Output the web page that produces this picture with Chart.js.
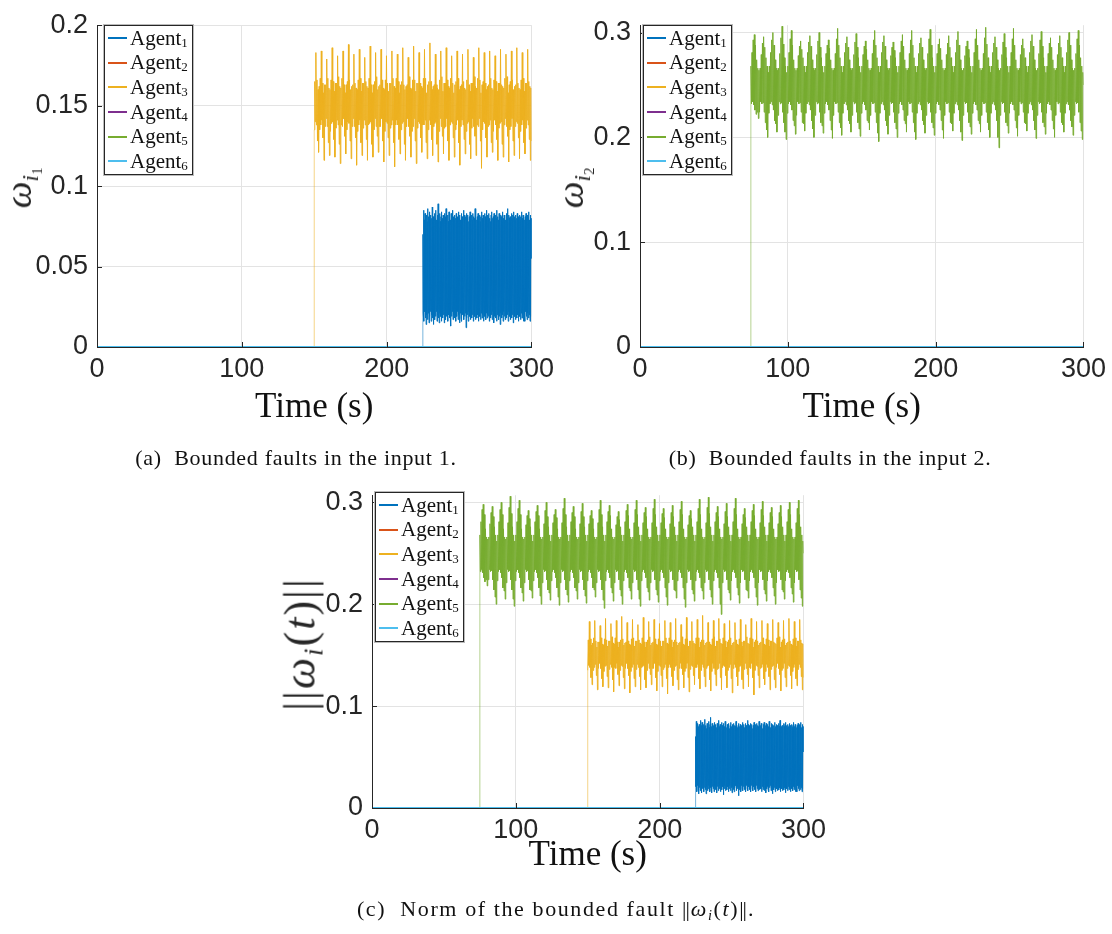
<!DOCTYPE html>
<html>
<head>
<meta charset="utf-8">
<script src="https://cdn.jsdelivr.net/npm/chart.js@4.4.1/dist/chart.umd.min.js"></script>
<style>
  body { margin: 0; background: #fff; }
  #fig { position: relative; width: 1112px; height: 934px; overflow: hidden; background: #fff; }
  canvas { position: absolute; }
  .ylab { position: absolute; transform: translate(-50%, -50%) rotate(-90deg); font-family: 'Liberation Serif', serif; color: #262626; white-space: nowrap; }
  .ylab sub { font-size: 62%; position: relative; top: 0.3em; vertical-align: baseline; }
  .caption { position: absolute; transform: translateX(-50%); font-family: 'Liberation Serif', serif; font-size: 22px; letter-spacing: 0.7px; color: #111; white-space: nowrap; }
  .caption sub { font-size: 65%; position: relative; top: 0.3em; vertical-align: baseline; }
  .caption .nb { letter-spacing: -1px; margin-right: 2px; }
  .legend { position: absolute; background: #fff; border: 1px solid #262626; box-shadow: 0 0 0 1px #bbb; padding: 0 4px 0 3px; }
  .legend .row { display: flex; align-items: center; height: 24.6px; font-family: 'Liberation Serif', serif; font-size: 21px; color: #111; }
  .legend .row span.ln { display: inline-block; width: 19px; height: 2px; margin-right: 3px; }
  .legend sub { font-size: 62%; position: relative; top: 0.35em; vertical-align: baseline; }
</style>
</head>
<body>
<div id="fig">
  <canvas id="chartA" width="560" height="440" style="left:0px;top:0px"></canvas>
  <canvas id="chartB" width="552" height="440" style="left:560px;top:0px"></canvas>
  <canvas id="chartC" width="560" height="440" style="left:272px;top:470px"></canvas>

  <div class="ylab" style="left:18px;top:188px;font-size:38px"><i>ω</i><sub><i>i</i><sub>1</sub></sub></div>
  <div class="ylab" style="left:570px;top:188px;font-size:38px"><i>ω</i><sub><i>i</i><sub>2</sub></sub></div>
  <div class="ylab" style="left:300px;top:644px;font-size:44px;letter-spacing:2px">||<i>ω</i><sub><i>i</i></sub>(<i>t</i>)||</div>

  <div class="caption" style="left:296px;top:445px">(a)&nbsp; Bounded faults in the input 1.</div>
  <div class="caption" style="left:830px;top:445px">(b)&nbsp; Bounded faults in the input 2.</div>
  <div class="caption" style="left:556px;top:896px;letter-spacing:1.6px">(c)&nbsp; Norm of the bounded fault <span class="nb">||</span><i>ω</i><sub><i>i</i></sub>(<i>t</i>)<span class="nb">||</span>.</div>

  <div class="legend" id="legA" style="left:104px;top:25px"></div>
  <div class="legend" id="legB" style="left:643px;top:25px"></div>
  <div class="legend" id="legC" style="left:375px;top:492px"></div>
</div>
<script>
// ---- data ----
const agentLabels = ['Agent1', 'Agent2', 'Agent3', 'Agent4', 'Agent5', 'Agent6'];
const agentColors = ['#0072BD', '#D95319', '#EDB120', '#7E2F8E', '#77AC30', '#4DBEEE'];
const xTicks = [0, 100, 200, 300];
const yTicksA = [0, 0.05, 0.1, 0.15, 0.2];
const yTicksB = [0, 0.1, 0.2, 0.3];
const timeEnd = 300;

// fault onset times (s)
const agent1Start = 225;
const agent3Start = 150;
const agent5Start = 75;

// Agent 1 fault (dense noise band, 225-300 s)
const agent1Fault = [
  0.070,0.021, 0.085,0.016, 0.079,0.022, 0.083,0.018, 0.080,0.014, 0.082,0.020, 0.078,0.017, 0.086,0.021, 0.081,0.015, 0.084,0.019,
  0.079,0.022, 0.082,0.016, 0.080,0.020, 0.087,0.018, 0.081,0.014, 0.078,0.021, 0.083,0.017, 0.080,0.019, 0.085,0.022, 0.079,0.016,
  0.082,0.020, 0.089,0.018, 0.080,0.015, 0.083,0.021, 0.078,0.019, 0.081,0.016, 0.084,0.022, 0.080,0.018, 0.082,0.020, 0.079,0.015,
  0.083,0.021, 0.081,0.017, 0.086,0.019, 0.080,0.022, 0.082,0.016, 0.078,0.020, 0.084,0.018, 0.081,0.021, 0.079,0.013, 0.083,0.019,
  0.080,0.022, 0.085,0.017, 0.081,0.020, 0.079,0.018, 0.082,0.021, 0.080,0.016, 0.083,0.019, 0.078,0.022, 0.081,0.017, 0.084,0.020,
  0.080,0.015, 0.082,0.021, 0.079,0.018, 0.083,0.016, 0.081,0.020, 0.080,0.022, 0.085,0.017, 0.082,0.019, 0.079,0.021, 0.081,0.012,
  0.083,0.018, 0.080,0.020, 0.082,0.016, 0.078,0.022, 0.081,0.019, 0.084,0.017, 0.080,0.021, 0.082,0.018, 0.079,0.020, 0.083,0.016,
  0.081,0.022, 0.080,0.019, 0.086,0.017, 0.082,0.021, 0.079,0.018, 0.081,0.020, 0.083,0.016, 0.080,0.022, 0.082,0.019, 0.078,0.017,
  0.081,0.021, 0.084,0.018, 0.080,0.020, 0.082,0.016, 0.079,0.022, 0.083,0.019, 0.081,0.017, 0.080,0.021, 0.085,0.018, 0.082,0.020,
  0.081,0.019, 0.083,0.016, 0.080,0.021, 0.078,0.018, 0.082,0.020, 0.084,0.017, 0.080,0.022, 0.081,0.015, 0.083,0.019, 0.079,0.021,
  0.082,0.018, 0.080,0.016, 0.085,0.020, 0.081,0.022, 0.079,0.017, 0.083,0.019, 0.080,0.014, 0.082,0.021, 0.081,0.018, 0.078,0.020,
  0.084,0.016, 0.080,0.022, 0.082,0.019, 0.081,0.017, 0.079,0.021, 0.083,0.018, 0.080,0.020, 0.086,0.016, 0.082,0.022, 0.080,0.019,
  0.081,0.017, 0.079,0.021, 0.083,0.018, 0.080,0.020, 0.082,0.015, 0.084,0.022, 0.081,0.019, 0.079,0.017, 0.082,0.021, 0.080,0.018,
  0.083,0.020, 0.081,0.016, 0.080,0.022, 0.082,0.019, 0.079,0.017, 0.081,0.021, 0.084,0.018, 0.080,0.020, 0.082,0.016, 0.081,0.022,
  0.079,0.016, 0.081,0.022, 0.083,0.019, 0.080,0.017, 0.082,0.021, 0.081,0.018, 0.084,0.020, 0.079,0.016, 0.082,0.019, 0.080,0.055
];

// Agent 3 fault (150-300 s)
const agent3Fault = [
  0.135,
  0.165,0.140,0.183,0.138,0.166,0.128,0.160,0.121,0.162,0.135, 0.167,0.138,0.184,0.141,0.164,0.130,0.158,0.116,0.163,0.137,
  0.163,0.142,0.179,0.137,0.167,0.127,0.161,0.119,0.160,0.134, 0.166,0.139,0.186,0.140,0.165,0.129,0.159,0.118,0.164,0.136,
  0.164,0.141,0.181,0.138,0.168,0.126,0.162,0.114,0.161,0.138, 0.167,0.137,0.184,0.142,0.163,0.131,0.158,0.120,0.163,0.135,
  0.165,0.140,0.188,0.139,0.166,0.128,0.160,0.117,0.162,0.137, 0.163,0.142,0.182,0.137,0.164,0.130,0.161,0.113,0.160,0.134,
  0.166,0.138,0.185,0.141,0.167,0.127,0.159,0.119,0.164,0.136, 0.164,0.141,0.180,0.138,0.165,0.129,0.162,0.116,0.161,0.138,
  0.167,0.139,0.187,0.140,0.163,0.126,0.158,0.118,0.163,0.135, 0.165,0.142,0.183,0.137,0.168,0.131,0.160,0.121,0.162,0.137,
  0.163,0.137,0.185,0.142,0.166,0.128,0.161,0.115,0.160,0.134, 0.166,0.140,0.181,0.139,0.164,0.130,0.159,0.119,0.164,0.136,
  0.164,0.138,0.184,0.141,0.167,0.127,0.162,0.112,0.161,0.138, 0.167,0.141,0.182,0.138,0.165,0.129,0.158,0.120,0.163,0.135,
  0.165,0.139,0.186,0.140,0.163,0.126,0.160,0.116,0.162,0.137, 0.163,0.142,0.180,0.137,0.168,0.131,0.161,0.118,0.160,0.134,
  0.166,0.137,0.187,0.142,0.166,0.128,0.159,0.114,0.164,0.136, 0.164,0.140,0.183,0.139,0.164,0.130,0.162,0.121,0.161,0.138,
  0.167,0.138,0.185,0.141,0.167,0.127,0.158,0.117,0.163,0.135, 0.165,0.141,0.189,0.138,0.165,0.129,0.160,0.119,0.162,0.137,
  0.163,0.139,0.182,0.140,0.163,0.126,0.161,0.115,0.160,0.134, 0.166,0.142,0.184,0.137,0.168,0.131,0.159,0.120,0.164,0.136,
  0.164,0.137,0.186,0.142,0.166,0.128,0.162,0.116,0.161,0.138, 0.167,0.140,0.181,0.139,0.164,0.130,0.158,0.118,0.163,0.135,
  0.165,0.138,0.184,0.141,0.167,0.127,0.160,0.113,0.162,0.137, 0.163,0.141,0.182,0.138,0.165,0.129,0.161,0.120,0.160,0.134,
  0.166,0.139,0.185,0.140,0.163,0.126,0.159,0.117,0.164,0.136, 0.164,0.142,0.180,0.137,0.168,0.131,0.162,0.119,0.161,0.138,
  0.167,0.137,0.186,0.142,0.166,0.128,0.158,0.111,0.163,0.135, 0.165,0.140,0.183,0.139,0.164,0.130,0.160,0.118,0.162,0.137,
  0.163,0.138,0.184,0.141,0.167,0.127,0.161,0.121,0.160,0.134, 0.166,0.141,0.181,0.138,0.165,0.129,0.159,0.116,0.164,0.136,
  0.164,0.139,0.185,0.140,0.163,0.126,0.162,0.118,0.161,0.138, 0.167,0.142,0.182,0.137,0.168,0.131,0.158,0.115,0.163,0.135,
  0.165,0.137,0.184,0.142,0.166,0.128,0.160,0.119,0.162,0.137, 0.163,0.140,0.186,0.139,0.164,0.130,0.161,0.117,0.160,0.134,
  0.166,0.138,0.183,0.141,0.167,0.127,0.159,0.120,0.164,0.136, 0.164,0.141,0.185,0.138,0.165,0.129,0.162,0.116,0.161,0.128
];

// Agent 5 fault (75-300 s), one row per slow cycle
const agent5Fault = [
  0.268,0.232,0.281,0.234,0.293,0.231,0.298,0.226,0.288,0.222,0.274,0.224,0.266,0.218,0.264,0.224,
  0.266,0.234,0.279,0.232,0.290,0.233,0.296,0.224,0.286,0.214,0.276,0.207,0.268,0.200,0.262,0.223,
  0.268,0.232,0.281,0.234,0.293,0.231,0.300,0.226,0.288,0.216,0.274,0.213,0.266,0.205,0.264,0.221,
  0.266,0.234,0.280,0.232,0.295,0.233,0.306,0.224,0.289,0.214,0.276,0.205,0.268,0.198,0.262,0.223,
  0.268,0.232,0.281,0.234,0.294,0.231,0.302,0.226,0.288,0.216,0.274,0.211,0.266,0.203,0.264,0.221,
  0.266,0.234,0.278,0.232,0.287,0.233,0.292,0.224,0.284,0.214,0.276,0.213,0.268,0.206,0.262,0.223,
  0.268,0.232,0.281,0.234,0.291,0.231,0.297,0.226,0.287,0.216,0.274,0.208,0.266,0.200,0.264,0.221,
  0.266,0.234,0.279,0.232,0.292,0.233,0.300,0.224,0.286,0.214,0.276,0.211,0.268,0.204,0.262,0.223,
  0.268,0.232,0.280,0.234,0.288,0.231,0.293,0.226,0.285,0.216,0.274,0.207,0.266,0.199,0.264,0.221,
  0.266,0.234,0.280,0.232,0.294,0.233,0.304,0.224,0.288,0.214,0.276,0.209,0.268,0.202,0.262,0.223,
  0.268,0.232,0.281,0.234,0.290,0.231,0.296,0.226,0.286,0.216,0.274,0.213,0.266,0.205,0.264,0.221,
  0.266,0.234,0.279,0.232,0.291,0.233,0.299,0.224,0.286,0.214,0.276,0.208,0.268,0.201,0.262,0.223,
  0.268,0.232,0.279,0.234,0.287,0.231,0.292,0.226,0.284,0.216,0.274,0.214,0.266,0.207,0.264,0.221,
  0.266,0.234,0.280,0.232,0.293,0.233,0.302,0.224,0.288,0.214,0.276,0.204,0.268,0.196,0.262,0.223,
  0.268,0.232,0.281,0.234,0.291,0.231,0.297,0.226,0.287,0.216,0.274,0.211,0.266,0.203,0.264,0.221,
  0.266,0.234,0.278,0.232,0.286,0.233,0.291,0.224,0.283,0.214,0.276,0.208,0.268,0.200,0.262,0.223,
  0.268,0.232,0.281,0.234,0.292,0.231,0.298,0.226,0.287,0.216,0.274,0.213,0.266,0.205,0.264,0.221,
  0.266,0.234,0.280,0.232,0.293,0.233,0.302,0.224,0.288,0.214,0.276,0.205,0.268,0.198,0.262,0.223,
  0.268,0.232,0.280,0.234,0.290,0.231,0.295,0.226,0.286,0.216,0.274,0.212,0.266,0.204,0.264,0.221,
  0.266,0.234,0.280,0.232,0.294,0.233,0.303,0.224,0.288,0.214,0.276,0.209,0.268,0.202,0.262,0.223,
  0.268,0.232,0.280,0.234,0.289,0.231,0.294,0.226,0.285,0.216,0.274,0.207,0.266,0.199,0.264,0.221,
  0.266,0.234,0.279,0.232,0.290,0.233,0.297,0.224,0.286,0.214,0.276,0.213,0.268,0.206,0.262,0.223,
  0.268,0.232,0.281,0.234,0.293,0.231,0.301,0.226,0.288,0.216,0.274,0.205,0.266,0.197,0.264,0.221,
  0.266,0.234,0.278,0.232,0.287,0.233,0.292,0.224,0.284,0.214,0.276,0.210,0.268,0.203,0.262,0.223,
  0.268,0.232,0.281,0.234,0.294,0.231,0.303,0.226,0.288,0.216,0.274,0.213,0.266,0.205,0.264,0.221,
  0.266,0.234,0.280,0.232,0.295,0.233,0.305,0.224,0.289,0.214,0.276,0.207,0.268,0.200,0.262,0.223,
  0.268,0.232,0.281,0.234,0.290,0.231,0.296,0.226,0.286,0.216,0.274,0.200,0.266,0.190,0.264,0.221,
  0.266,0.234,0.279,0.232,0.291,0.233,0.299,0.224,0.286,0.214,0.276,0.211,0.268,0.204,0.262,0.223,
  0.268,0.232,0.281,0.234,0.294,0.231,0.304,0.226,0.288,0.216,0.274,0.209,0.266,0.201,0.264,0.221,
  0.266,0.234,0.279,0.232,0.288,0.233,0.294,0.224,0.285,0.214,0.276,0.213,0.268,0.206,0.262,0.223,
  0.268,0.232,0.281,0.234,0.292,0.231,0.298,0.226,0.287,0.216,0.274,0.207,0.266,0.199,0.264,0.221,
  0.266,0.234,0.280,0.232,0.293,0.233,0.301,0.224,0.287,0.214,0.276,0.210,0.268,0.203,0.262,0.223,
  0.268,0.232,0.280,0.234,0.290,0.231,0.295,0.226,0.286,0.216,0.274,0.208,0.266,0.200,0.264,0.221,
  0.266,0.234,0.279,0.232,0.290,0.233,0.297,0.224,0.286,0.214,0.276,0.212,0.268,0.205,0.262,0.223,
  0.268,0.232,0.281,0.234,0.293,0.231,0.300,0.226,0.288,0.216,0.274,0.210,0.266,0.202,0.264,0.221,
  0.266,0.234,0.280,0.232,0.294,0.233,0.302,0.224,0.288,0.214,0.276,0.206,0.268,0.198,0.262,0.250
];

// ---- helpers ----
function zeroSeries() {
  return [{x: 0, y: 0}, {x: timeEnd, y: 0}];
}

// zero until the fault starts, then the sampled fault values up to the end
function faultSeries(start, values) {
  const pts = [{x: 0, y: 0}, {x: start, y: 0}];
  const dt = (timeEnd - start) / (values.length - 1);
  values.forEach((v, i) => pts.push({x: start + i * dt, y: v}));
  return pts;
}

const axisColor = '#262626';
const gridColor = '#e3e3e3';
const tickFont = {family: "'Liberation Sans', Arial, sans-serif", size: 27};

// MATLAB style ticks pointing into the axes
const inwardTicks = {
  id: 'inwardTicks',
  afterDatasetsDraw(chart) {
    const {ctx, chartArea, scales} = chart;
    ctx.save();
    ctx.strokeStyle = axisColor;
    ctx.lineWidth = 1;
    scales.x.ticks.forEach(t => {
      const px = Math.round(scales.x.getPixelForValue(t.value)) + 0.5;
      ctx.beginPath();
      ctx.moveTo(px, chartArea.bottom);
      ctx.lineTo(px, chartArea.bottom - 5);
      ctx.stroke();
    });
    scales.y.ticks.forEach(t => {
      const py = Math.round(scales.y.getPixelForValue(t.value)) + 0.5;
      ctx.beginPath();
      ctx.moveTo(chartArea.left, py);
      ctx.lineTo(chartArea.left + 5, py);
      ctx.stroke();
    });
    ctx.restore();
  }
};

function buildChart(canvasId, seriesList, yTicks, yMax, layout) {
  const datasets = seriesList.map((data, i) => ({
    label: agentLabels[i],
    data: data,
    borderColor: agentColors[i],
    backgroundColor: agentColors[i],
    borderWidth: data.length > 2 ? 1 : 2,
    pointRadius: 0,
    tension: 0,
    // the jump at fault onset comes out pale in the original
    segment: {
      borderColor: c => (c.p0.parsed.y === 0 && c.p1.parsed.y !== 0) ? agentColors[i] + '88' : undefined
    },
    order: agentLabels.length - i   // later agents on top, like MATLAB
  }));

  return new Chart(document.getElementById(canvasId).getContext('2d'), {
    type: 'line',
    data: {datasets: datasets},
    plugins: [inwardTicks],
    options: {
      responsive: false,
      animation: false,
      devicePixelRatio: 1,
      layout: {padding: {left: 0, top: 20, right: layout.right, bottom: 0}},
      plugins: {legend: {display: false}, tooltip: {enabled: false}},
      scales: {
        x: {
          type: 'linear',
          min: 0,
          max: timeEnd,
          afterBuildTicks: s => { s.ticks = xTicks.map(v => ({value: v})); },
          afterFit: s => { s.height = layout.xHeight; },
          ticks: {font: tickFont, color: axisColor, padding: 6, maxRotation: 0, autoSkip: false},
          grid: {color: gridColor, drawTicks: false},
          border: {color: axisColor, width: 1},
          title: {
            display: true,
            text: 'Time (s)',
            color: '#111',
            font: {family: "'Liberation Serif', serif", size: 35},
            padding: {top: 0, bottom: layout.titlePad}
          }
        },
        y: {
          type: 'linear',
          min: 0,
          max: yMax,
          afterBuildTicks: s => { s.ticks = yTicks.map(v => ({value: v})); },
          afterFit: s => { s.width = layout.yWidth; },
          ticks: {font: tickFont, color: axisColor, padding: 9, callback: v => String(+v.toFixed(2))},
          grid: {color: gridColor, drawTicks: false},
          border: {color: axisColor, width: 1}
        }
      }
    }
  });
}

// legends
function buildLegend(id) {
  const box = document.getElementById(id);
  agentLabels.forEach((lab, i) => {
    const row = document.createElement('div');
    row.className = 'row';
    row.innerHTML = '<span class="ln" style="background:' + agentColors[i] + '"></span>' +
      lab.replace(/(\d)$/, '<sub>$1</sub>');
    box.appendChild(row);
  });
}
['legA', 'legB', 'legC'].forEach(buildLegend);

// (a) faults in input 1
buildChart('chartA', [
  faultSeries(agent1Start, agent1Fault),
  zeroSeries(),
  faultSeries(agent3Start, agent3Fault),
  zeroSeries(),
  zeroSeries(),
  zeroSeries()
], yTicksA, 0.2, {right: 27, xHeight: 93, yWidth: 97, titlePad: 11});

// (b) faults in input 2
buildChart('chartB', [
  zeroSeries(),
  zeroSeries(),
  zeroSeries(),
  zeroSeries(),
  faultSeries(agent5Start, agent5Fault),
  zeroSeries()
], yTicksB, 0.307, {right: 27, xHeight: 93, yWidth: 80, titlePad: 11});

// (c) norm of the fault
buildChart('chartC', [
  faultSeries(agent1Start, agent1Fault),
  zeroSeries(),
  faultSeries(agent3Start, agent3Fault),
  zeroSeries(),
  faultSeries(agent5Start, agent5Fault),
  zeroSeries()
], yTicksB, 0.307, {right: 22, xHeight: 102, yWidth: 100, titlePad: 33});
</script>
</body>
</html>
